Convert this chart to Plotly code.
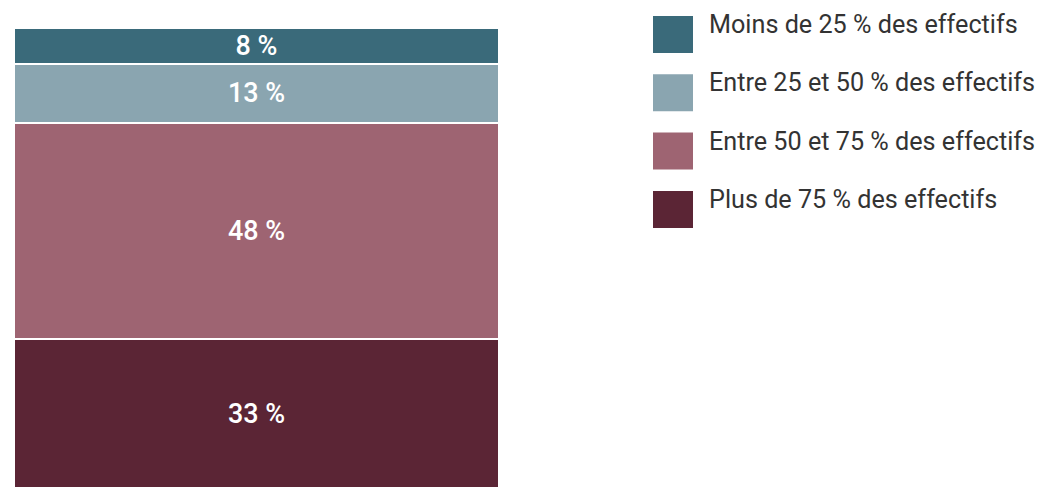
import plotly.graph_objects as go

categories = ["Total"]
series_names = [
    "Plus de 75 % des effectifs",
    "Entre 50 et 75 % des effectifs",
    "Entre 25 et 50 % des effectifs",
    "Moins de 25 % des effectifs",
]
series_values = [33, 48, 13, 8]
series_colors = ["#5b2535", "#9e6472", "#8aa5b0", "#3a6a7a"]

W, H = 1046, 488
OFF = 8  # page body margin
fig = go.Figure()
for name, val, col in zip(series_names, series_values, series_colors):
    fig.add_trace(go.Bar(
        x=categories, y=[val], name=name,
        marker=dict(color=col, line=dict(color="white", width=2)),
        text=[f"{val} %"], textposition="inside", insidetextanchor="middle",
        constraintext="none",
        textfont=dict(color="white", size=27, family="Roboto Medium, Roboto"),
        width=1, showlegend=False,
    ))

shapes, annots = [], []
legend_order = list(zip(series_names, series_colors))[::-1]
for i, (name, col) in enumerate(legend_order):
    top = 16 + i * 58.3 - OFF
    shapes.append(dict(type="rect", xref="paper", yref="paper",
                       x0=(653 - OFF) / W, x1=(693 - OFF) / W,
                       y0=1 - (top + 37) / H, y1=1 - top / H,
                       fillcolor=col, line=dict(width=0)))
    annots.append(dict(text=name, xref="paper", yref="paper",
                       x=(707 - OFF) / W, y=1 - (top + 8.5) / H,
                       xanchor="left", yanchor="middle", showarrow=False,
                       font=dict(size=25.2, color="#333333", family="Roboto")))

fig.update_layout(
    barmode="stack", width=W, height=H,
    margin=dict(l=0, r=0, t=0, b=0),
    plot_bgcolor="white", paper_bgcolor="white",
    xaxis=dict(domain=[(14 - OFF) / W, (499 - OFF) / W], range=[-0.5, 0.5],
               visible=False, fixedrange=True),
    yaxis=dict(domain=[OFF / H, (H - (28 - OFF)) / H], range=[0, 102],
               visible=False, fixedrange=True),
    shapes=shapes, annotations=annots,
    uniformtext=dict(mode=False),
)
fig.write_html("out.html")
